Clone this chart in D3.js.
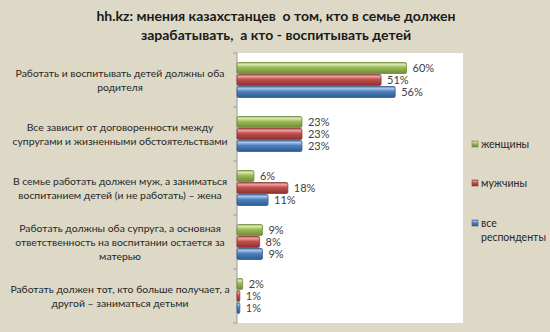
<!DOCTYPE html>
<html>
<head>
<meta charset="utf-8">
<script src="https://cdn.jsdelivr.net/npm/d3@7"></script>
<style>
  html, body { margin: 0; padding: 0; background: #ddd9c6; }
  svg { display: block; font-family: Lato, "Open Sans", sans-serif; }
</style>
</head>
<body>
<svg id="chart" width="550" height="332"></svg>
<script>
// Survey answers (share of respondents, %)
const categories = [
  "Работать и воспитывать детей должны оба|родителя",
  "Все зависит от договоренности между|супругами и жизненными обстоятельствами",
  "В семье работать должен муж, а заниматься|воспитанием детей (и не работать) – жена",
  "Работать должны оба супруга, а основная|ответственность на воспитании остается за|матерью",
  "Работать должен тот, кто больше получает, а|другой – заниматься детьми"
];
const seriesNames = ["женщины", "мужчины", "все|респонденты"];
const women = [60, 23, 6, 9, 2];
const men = [51, 23, 18, 8, 1];
const all = [56, 23, 11, 9, 1];
const titleLines = [
  "hh.kz: мнения казахстанцев  о том, кто в семье должен",
  "зарабатывать,  а кто - воспитывать детей"
];

const series = [women, men, all];
const palette = [
  { light: "#d6e8a8", mid: "#9bbb59", dark: "#6f8a35", stroke: "#71893f" },
  { light: "#ee9e9b", mid: "#c0504d", dark: "#8f2f2c", stroke: "#8c3836" },
  { light: "#a7c4ea", mid: "#4f81bd", dark: "#2c5a92", stroke: "#385d8a" }
];

const svg = d3.select("#chart");
const plot = { left: 237, right: 463, top: 53, bottom: 323 };

// gradients for the shaded bars
const defs = svg.append("defs");
palette.forEach((c, i) => {
  const g = defs.append("linearGradient").attr("id", "grad" + i)
    .attr("x1", 0).attr("y1", 0).attr("x2", 0).attr("y2", 1);
  g.append("stop").attr("offset", "0%").attr("stop-color", c.mid);
  g.append("stop").attr("offset", "18%").attr("stop-color", c.light);
  g.append("stop").attr("offset", "45%").attr("stop-color", c.mid);
  g.append("stop").attr("offset", "100%").attr("stop-color", c.dark);
});

// plot area
svg.append("rect")
  .attr("x", plot.left).attr("y", plot.top)
  .attr("width", plot.right - plot.left).attr("height", plot.bottom - plot.top)
  .attr("fill", "#ffffff");

const x = d3.scaleLinear().domain([0, 80]).range([plot.left, plot.right]);
const y = d3.scaleBand().domain(d3.range(categories.length))
  .range([plot.top, plot.bottom]).paddingInner(0).paddingOuter(0);
const inner = d3.scaleBand().domain(d3.range(series.length))
  .range([0, y.bandwidth()]).paddingOuter(0.75).paddingInner(0);

// category axis line and ticks
svg.append("line")
  .attr("x1", plot.left).attr("x2", plot.left)
  .attr("y1", plot.top).attr("y2", plot.bottom)
  .attr("stroke", "#9a9a9a").attr("stroke-width", 1);
svg.selectAll("line.tick")
  .data(d3.range(categories.length + 1))
  .join("line").attr("class", "tick")
  .attr("x1", plot.left - 4).attr("x2", plot.left)
  .attr("y1", d => d === categories.length ? plot.bottom : y(d))
  .attr("y2", d => d === categories.length ? plot.bottom : y(d))
  .attr("stroke", "#9a9a9a");

// category labels
categories.forEach((c, i) => {
  const lines = c.split("|");
  const cy = y(i) + y.bandwidth() / 2;
  const lh = 14;
  const t = svg.append("text")
    .attr("text-anchor", "middle")
    .attr("font-size", 10.4).attr("fill", "#262626");
  lines.forEach((l, k) => {
    t.append("tspan").attr("x", 120)
      .attr("y", cy + (k - (lines.length - 1) / 2) * lh + 4)
      .text(l);
  });
});

// bars
series.forEach((vals, s) => {
  const g = svg.append("g");
  g.selectAll("rect")
    .data(vals)
    .join("rect")
    .attr("x", x(0))
    .attr("y", (d, i) => y(i) + inner(s) + 0.5)
    .attr("width", d => x(d) - x(0))
    .attr("height", inner.bandwidth() - 1)
    .attr("rx", 1.5)
    .attr("fill", "url(#grad" + s + ")")
    .attr("stroke", palette[s].stroke)
    .attr("stroke-width", 0.8);
});

// value labels
series.forEach((vals, s) => {
  vals.forEach((d, i) => {
    const ty = y(i) + inner(s) + inner.bandwidth() / 2 + 4;
    const tx = x(d) + 6;
    if (s === 1 && i === 0) {
      svg.append("rect").attr("x", tx - 2).attr("y", ty - 10)
        .attr("width", 22).attr("height", 12).attr("fill", "#ffffff");
    }
    svg.append("text")
      .attr("x", tx).attr("y", ty)
      .attr("font-size", 11).attr("fill", "#404040")
      .text(d + "%");
  });
});

// legend
const legendY = [144, 183, 223];
seriesNames.forEach((n, s) => {
  svg.append("rect")
    .attr("x", 472).attr("y", legendY[s] - 3)
    .attr("width", 6).attr("height", 6)
    .attr("fill", "url(#grad" + s + ")")
    .attr("stroke", palette[s].stroke).attr("stroke-width", 0.6);
  const t = svg.append("text").attr("font-size", 10.5).attr("fill", "#262626");
  n.split("|").forEach((l, k) => {
    t.append("tspan").attr("x", 481).attr("y", legendY[s] + 4 + k * 14).text(l);
  });
});

// title
svg.append("text")
  .attr("text-anchor", "middle")
  .attr("font-size", 14).attr("font-weight", "bold").attr("fill", "#1a1a1a")
  .selectAll("tspan").data(titleLines).join("tspan")
  .attr("x", 276).attr("y", (d, i) => 21 + i * 19)
  .attr("xml:space", "preserve")
  .text(d => d);
</script>
</body>
</html>
